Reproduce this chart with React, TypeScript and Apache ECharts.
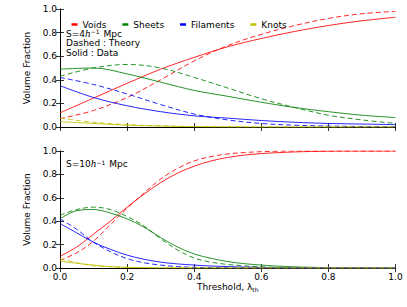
import React, { useEffect, useRef } from "react";
import * as echarts from "echarts";

// ---------- data ----------
const topX = [0, 0.1, 0.2, 0.3, 0.4, 0.5, 0.6, 0.7, 0.8, 0.9, 1.0];
const topVoidsData = [0.12, 0.245, 0.37, 0.49, 0.59, 0.68, 0.75, 0.81, 0.86, 0.9, 0.93];
const topVoidsTheory = [0.07, 0.14, 0.25, 0.4, 0.56, 0.69, 0.785, 0.86, 0.92, 0.96, 0.98];
const topSheetsData = [0.49, 0.5, 0.45, 0.38, 0.31, 0.26, 0.21, 0.165, 0.13, 0.1, 0.08];
const topSheetsTheory = [0.43, 0.5, 0.53, 0.5, 0.42, 0.33, 0.24, 0.165, 0.1, 0.06, 0.03];
const topFilData = [0.35, 0.25, 0.18, 0.13, 0.095, 0.075, 0.055, 0.04, 0.03, 0.025, 0.02];
const topFilTheory = [0.42, 0.36, 0.28, 0.19, 0.11, 0.06, 0.03, 0.015, 0.008, 0.004, 0.002];
const topKnotsData = [0.045, 0.03, 0.015, 0.008, 0.003, 0.001, 0, 0, 0, 0, 0];
const topKnotsTheory = [0.075, 0.04, 0.02, 0.01, 0.003, 0.001, 0, 0, 0, 0, 0];

const botX = [0, 0.05, 0.1, 0.15, 0.2, 0.25, 0.3, 0.35, 0.4, 0.45, 0.5, 0.55, 0.6, 0.65, 0.7, 0.75, 0.8, 0.85, 0.9, 0.95, 1.0];
const botVoidsData = [0.1, 0.18, 0.29, 0.4, 0.52, 0.63, 0.73, 0.81, 0.87, 0.915, 0.945, 0.965, 0.978, 0.986, 0.992, 0.996, 0.998, 1.0, 1.0, 1.0, 1.0];
const botVoidsTheory = [0.065, 0.13, 0.23, 0.37, 0.51, 0.64, 0.76, 0.85, 0.915, 0.952, 0.975, 0.987, 0.994, 0.998, 1.0, 1.0, 1.0, 1.0, 1.0, 1.0, 1.0];
const botSheetsData = [0.42, 0.49, 0.5, 0.47, 0.42, 0.35, 0.26, 0.18, 0.12, 0.083, 0.055, 0.037, 0.025, 0.016, 0.01, 0.006, 0.004, 0.003, 0.002, 0.001, 0];
const botSheetsTheory = [0.45, 0.5, 0.52, 0.5, 0.44, 0.36, 0.25, 0.155, 0.085, 0.05, 0.03, 0.018, 0.01, 0.005, 0.003, 0.001, 0, 0, 0, 0, 0];
const botFilData = [0.38, 0.3, 0.22, 0.16, 0.11, 0.075, 0.05, 0.035, 0.025, 0.017, 0.012, 0.008, 0.005, 0.003, 0.002, 0.001, 0, 0, 0, 0, 0];
const botFilTheory = [0.42, 0.33, 0.22, 0.14, 0.08, 0.045, 0.025, 0.012, 0.006, 0.003, 0.002, 0.001, 0, 0, 0, 0, 0, 0, 0, 0, 0];
const botKnotsData = [0.06, 0.04, 0.025, 0.012, 0.006, 0.003, 0.002, 0.001, 0, 0, 0, 0, 0, 0, 0, 0, 0, 0, 0, 0, 0];
const botKnotsTheory = [0.08, 0.045, 0.02, 0.01, 0.004, 0.002, 0, 0, 0, 0, 0, 0, 0, 0, 0, 0, 0, 0, 0, 0, 0];

const legendNames = ["Voids", "Sheets", "Filaments", "Knots"];
const colors = ["#ff0000", "#008000", "#0000ff", "#bfbf00"];

const FONT = "DejaVu Sans";
const FS = 9;

function pairs(xs: number[], ys: number[]) {
  return xs.map((x, i) => [x, ys[i]]);
}

export default function App() {
  const ref = useRef<HTMLDivElement>(null);
  useEffect(() => {
    if (!ref.current) return;
    document.body.style.margin = "0";
    const chart = echarts.init(ref.current, null, { renderer: "svg" });

    const topSets = [
      [topVoidsData, topVoidsTheory],
      [topSheetsData, topSheetsTheory],
      [topFilData, topFilTheory],
      [topKnotsData, topKnotsTheory],
    ];
    const botSets = [
      [botVoidsData, botVoidsTheory],
      [botSheetsData, botSheetsTheory],
      [botFilData, botFilTheory],
      [botKnotsData, botKnotsTheory],
    ];

    const series: any[] = [];
    const mk = (name: string, xs: number[], ys: number[], color: string, dashed: boolean, axisIdx: number) => ({
      type: "line",
      name,
      data: pairs(xs, ys),
      xAxisIndex: axisIdx,
      yAxisIndex: axisIdx,
      showSymbol: false,
      smooth: 0.35,
      lineStyle: { color, width: 1, type: dashed ? [5, 3] : "solid", opacity: 0.85 },
      itemStyle: { color },
      silent: true,
      z: 3,
    });
    topSets.forEach((s, i) => {
      series.push(mk(legendNames[i], topX, s[0], colors[i], false, 0));
      series.push(mk(legendNames[i] + " theory", topX, s[1], colors[i], true, 0));
    });
    botSets.forEach((s, i) => {
      series.push(mk(legendNames[i] + " b", botX, s[0], colors[i], false, 1));
      series.push(mk(legendNames[i] + " b theory", botX, s[1], colors[i], true, 1));
    });

    const axisLine = { show: true, lineStyle: { color: "#000", width: 1 } };
    const tick = { show: true, inside: true, length: 4, lineStyle: { color: "#000", width: 0.8 } };
    const label = { fontFamily: FONT, fontSize: FS, color: "#000" };

    const xAxisBase = (gridIndex: number, showLabels: boolean, position: string) => ({
      type: "value",
      gridIndex,
      min: 0,
      max: 1,
      interval: 0.2,
      position,
      axisLine,
      axisTick: tick,
      splitLine: { show: false },
      axisLabel: {
        show: showLabels,
        ...label,
        margin: 4,
        formatter: (v: number) => v.toFixed(1),
      },
    });
    const yAxisBase = (gridIndex: number, showLabels: boolean, position: string) => ({
      type: "value",
      gridIndex,
      min: 0,
      max: 1,
      interval: 0.2,
      position,
      axisLine,
      axisTick: tick,
      splitLine: { show: false },
      axisLabel: {
        show: showLabels,
        ...label,
        margin: 3,
        formatter: (v: number) => v.toFixed(1),
      },
      name: showLabels ? "Volume Fraction" : "",
      nameLocation: "middle",
      nameGap: 18,
      nameTextStyle: { fontFamily: FONT, fontSize: FS, color: "#000" },
    });

    const xAxes: any[] = [
      xAxisBase(0, false, "bottom"),
      {
        ...xAxisBase(1, true, "bottom"),
        name: "{a|Threshold, λ}{s|th}",
        nameLocation: "middle",
        nameGap: 13,
        nameTextStyle: {
          fontFamily: FONT,
          fontSize: FS,
          color: "#000",
          rich: {
            a: { fontFamily: FONT, fontSize: FS, color: "#000" },
            s: { fontFamily: FONT, fontSize: 6, color: "#000", verticalAlign: "bottom", padding: [5, 0, 0, 0] },
          },
        },
      },
      xAxisBase(0, false, "top"),
      xAxisBase(1, false, "top"),
    ];
    const yAxes: any[] = [
      yAxisBase(0, true, "left"),
      yAxisBase(1, true, "left"),
      yAxisBase(0, false, "right"),
      yAxisBase(1, false, "right"),
    ];

    const annoRich = {
      n: { fontFamily: FONT, fontSize: FS, fill: "#000" },
      i: { fontFamily: "DejaVu Serif", fontStyle: "italic", fontSize: FS, fill: "#000" },
      sup: { fontFamily: FONT, fontSize: 6, fill: "#000", verticalAlign: "top", padding: [0, 1, 4, 0] },
    } as any;

    chart.setOption({
      animation: false,
      grid: [
        { left: 60, top: 9, width: 335.5, height: 118, show: false },
        { left: 60, top: 151, width: 335.5, height: 117, show: false },
      ],
      xAxis: xAxes,
      yAxis: yAxes,
      legend: {
        data: legendNames,
        left: 66.5,
        top: 15,
        orient: "horizontal",
        itemWidth: 6,
        itemHeight: 2.5,
        itemGap: 16,
        icon: "rect",
        textStyle: { fontFamily: FONT, fontSize: FS, color: "#000" },
        selectedMode: false,
      },
      graphic: [
        {
          type: "text",
          left: 66,
          top: 28.5,
          style: { text: "{n|S=4}{i|h}{sup|−1}{n| Mpc}", rich: annoRich },
        },
        {
          type: "text",
          left: 66,
          top: 38.5,
          style: { text: "Dashed : Theory", fontFamily: FONT, fontSize: FS, fill: "#000" },
        },
        {
          type: "text",
          left: 66,
          top: 48,
          style: { text: "Solid : Data", fontFamily: FONT, fontSize: FS, fill: "#000" },
        },
        {
          type: "text",
          left: 66,
          top: 159,
          style: { text: "{n|S=10}{i|h}{sup|−1}{n| Mpc}", rich: annoRich },
        },
      ],
      series,
    });
    return () => chart.dispose();
  }, []);
  return <div ref={ref} style={{ width: 407, height: 307 }} />;
}
